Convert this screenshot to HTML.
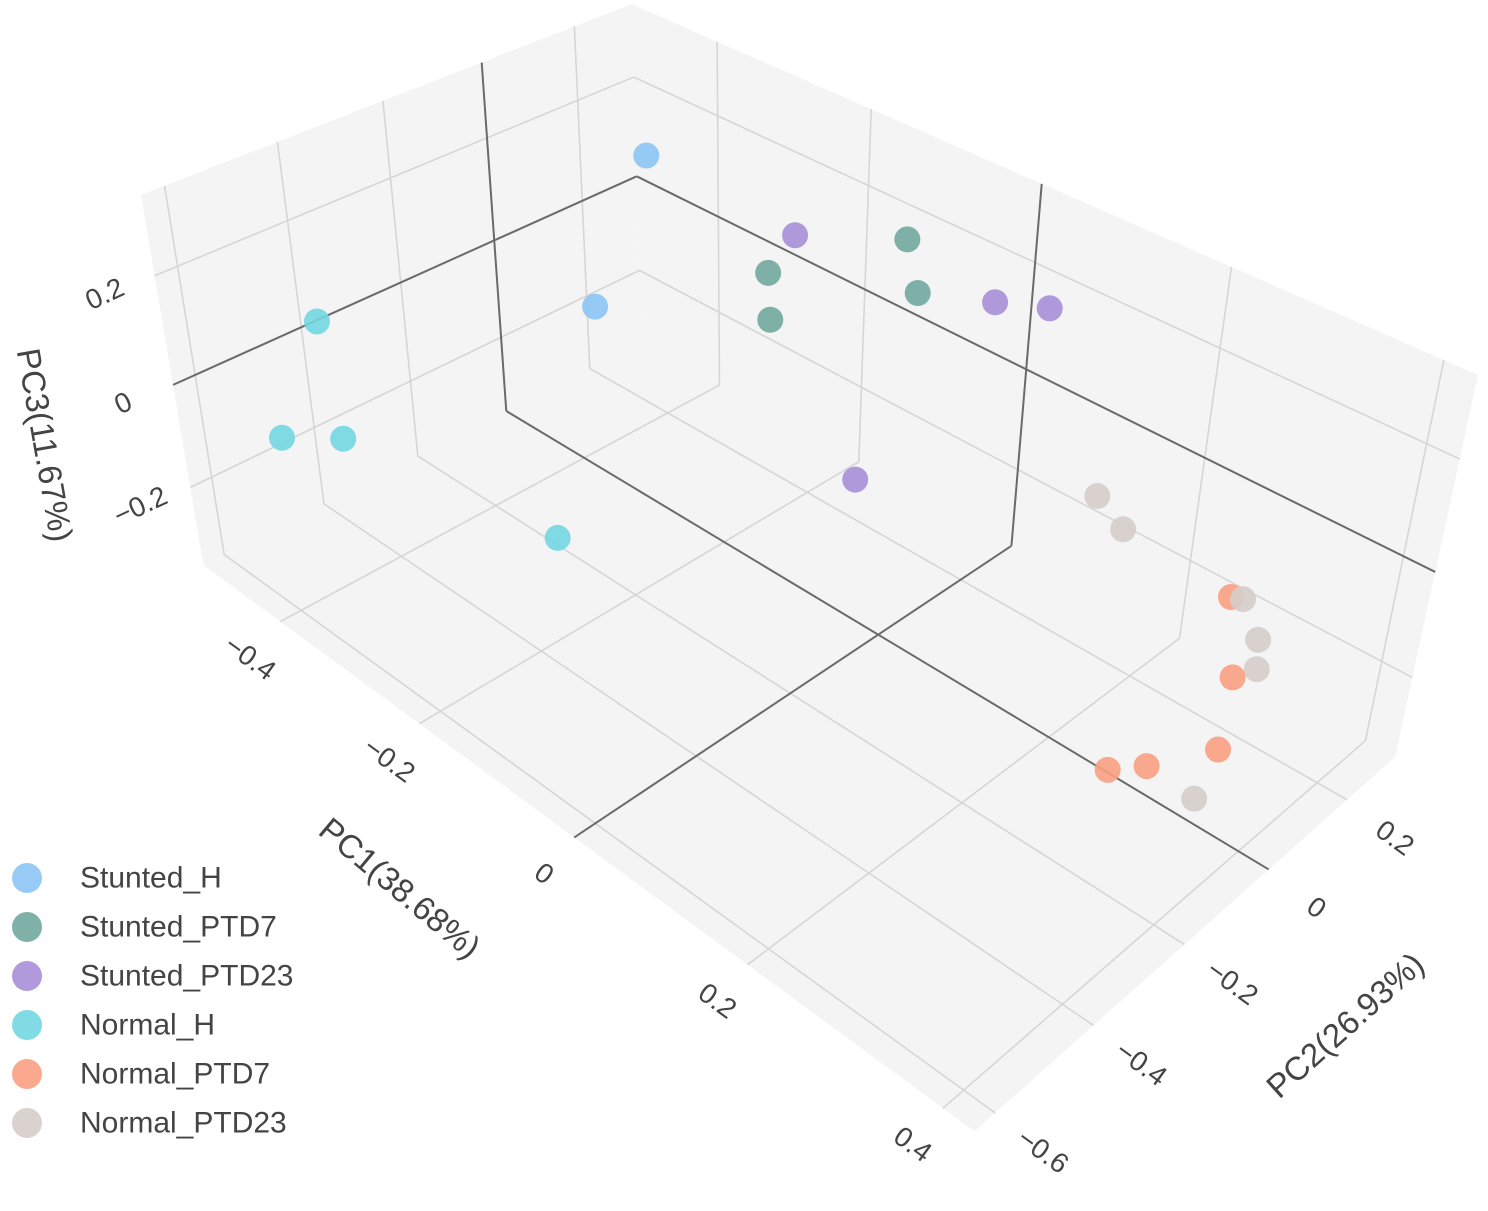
<!DOCTYPE html>
<html><head><meta charset="utf-8"><style>
html,body{margin:0;padding:0;background:#fff;}
svg{display:block;font-family:"Liberation Sans",sans-serif;}
</style></head><body>
<svg id="chart" width="1488" height="1211" viewBox="0 0 1488 1211" xmlns="http://www.w3.org/2000/svg">
<g id="walls"></g><g id="grid"></g><g id="zero"></g><g id="points"></g><g id="labels"></g><g id="legend"></g>
</svg>
<script>
// ---- data (PC1, PC2, PC3) per group ----
const groups = ["Stunted_H","Stunted_PTD7","Stunted_PTD23","Normal_H","Normal_PTD7","Normal_PTD23"];
const colors = ["#8cc4f4","#72a99f","#a78fd7","#72d7e1","#f9a083","#d6cdca"];
const pc1_StuntedH = [-0.34,-0.28];
const pc2_StuntedH = [0.07,-0.14];
const pc3_StuntedH = [0.26,0.11];
const pc1_StuntedPTD7 = [-0.12,-0.20,-0.09,-0.18];
const pc2_StuntedPTD7 = [0.27,0.10,0.24,0.07];
const pc3_StuntedPTD7 = [0.18,0.13,0.115,0.07];
const pc1_StuntedPTD23 = [-0.20,-0.01,0.05,-0.05];
const pc2_StuntedPTD23 = [0.16,0.26,0.26,0.03];
const pc3_StuntedPTD23 = [0.175,0.15,0.185,-0.11];
const pc1_NormalH = [-0.44,-0.42,-0.36,-0.21];
const pc2_NormalH = [-0.46,-0.57,-0.53,-0.34];
const pc3_NormalH = [0.1,-0.05,-0.02,-0.175];
const pc1_NormalPTD7 = [0.29,0.32,0.35,0.30,0.32];
const pc2_NormalPTD7 = [0.20,0.15,0.05,-0.095,-0.05];
const pc3_NormalPTD7 = [-0.11,-0.205,-0.25,-0.25,-0.25];
const pc1_NormalPTD23 = [0.16,0.19,0.30,0.33,0.33,0.36];
const pc2_NormalPTD23 = [0.16,0.16,0.205,0.175,0.185,-0.025];
const pc3_NormalPTD23 = [-0.02,-0.055,-0.107,-0.137,-0.2,-0.285];
const xTicks = [-0.4,-0.2,0,0.2,0.4];
const yTicks = [-0.6,-0.4,-0.2,0,0.2];
const zTicks = [-0.2,0,0.2];
const xTickLabels = ["−0.4","−0.2","0","0.2","0.4"];
const yTickLabels = ["−0.6","−0.4","−0.2","0","0.2"];
const zTickLabels = ["−0.2","0","0.2"];
const X0=-0.52,X1=0.43,Y0=-0.64,Y1=0.33,Z0=-0.36,Z1=0.34;

const series = [
 [pc1_StuntedH,pc2_StuntedH,pc3_StuntedH],
 [pc1_StuntedPTD7,pc2_StuntedPTD7,pc3_StuntedPTD7],
 [pc1_StuntedPTD23,pc2_StuntedPTD23,pc3_StuntedPTD23],
 [pc1_NormalH,pc2_NormalH,pc3_NormalH],
 [pc1_NormalPTD7,pc2_NormalPTD7,pc3_NormalPTD7],
 [pc1_NormalPTD23,pc2_NormalPTD23,pc3_NormalPTD23]
];

// ---- camera calibration (scene box corners -> screen) ----
const calib = [
 [X0,Y0,Z0,207,557],[X1,Y0,Z0,965,1140],[X1,Y1,Z0,1392,750],[X0,Y1,Z1,628,10],
 [X0,Y0,Z1,142,193],[X1,Y1,Z1,1478,365],[X0,0,Z0,500,410],[X1,0,Z0,1258,875],
 [0,Y0,Z0,585,845],[0,Y1,Z0,1025,550],[0,Y1,Z1,1055,190],[X0,0,Z1,473,68],
 [X0,Y0,0,175,378],[X0,Y1,0,634,175],[X1,Y1,0,1435,565]
];
function solveDLT(){
  const N=11, A=[], b=[];
  for(let i=0;i<N;i++){A.push(new Array(N).fill(0));b.push(0);}
  calib.forEach(([X,Y,Z,u,v])=>{
    const r1=[X,Y,Z,1,0,0,0,0,-u*X,-u*Y,-u*Z], r2=[0,0,0,0,X,Y,Z,1,-v*X,-v*Y,-v*Z];
    [[r1,u],[r2,v]].forEach(([r,t])=>{
      for(let i=0;i<N;i++){b[i]+=r[i]*t;for(let j=0;j<N;j++)A[i][j]+=r[i]*r[j];}
    });
  });
  for(let i=0;i<N;i++){
    let p=i;for(let k=i+1;k<N;k++)if(Math.abs(A[k][i])>Math.abs(A[p][i]))p=k;
    [A[i],A[p]]=[A[p],A[i]];[b[i],b[p]]=[b[p],b[i]];
    for(let k=i+1;k<N;k++){const f=A[k][i]/A[i][i];for(let j=i;j<N;j++)A[k][j]-=f*A[i][j];b[k]-=f*b[i];}
  }
  const x=new Array(N).fill(0);
  for(let i=N-1;i>=0;i--){let s=b[i];for(let j=i+1;j<N;j++)s-=A[i][j]*x[j];x[i]=s/A[i][i];}
  return x;
}
const P=solveDLT();
function proj(X,Y,Z){
  const w=P[8]*X+P[9]*Y+P[10]*Z+1;
  return [(P[0]*X+P[1]*Y+P[2]*Z+P[3])/w,(P[4]*X+P[5]*Y+P[6]*Z+P[7])/w,w];
}
const NS="http://www.w3.org/2000/svg";
function mk(tag,attrs,parent){const e=document.createElementNS(NS,tag);for(const k in attrs)e.setAttribute(k,attrs[k]);parent.appendChild(e);return e;}
const gW=document.getElementById('walls'),gG=document.getElementById('grid'),gZ=document.getElementById('zero'),gP=document.getElementById('points'),gL=document.getElementById('labels'),gLeg=document.getElementById('legend');
function poly(pts,name){
  const e=mk('polygon',{points:pts.map(p=>proj(...p).slice(0,2).join(',')).join(' '),fill:'#f4f4f4',stroke:'none'},gW);
  
  
}
poly([[X0,Y0,Z0],[X1,Y0,Z0],[X1,Y1,Z0],[X0,Y1,Z0]],'floor-plane');
poly([[X0,Y0,Z0],[X0,Y1,Z0],[X0,Y1,Z1],[X0,Y0,Z1]],'left-wall-plane');
poly([[X0,Y1,Z0],[X1,Y1,Z0],[X1,Y1,Z1],[X0,Y1,Z1]],'right-wall-plane');
function line(a,b,zero,name){
  const p=proj(...a),q=proj(...b);
  const e=mk('line',{x1:p[0],y1:p[1],x2:q[0],y2:q[1],stroke:zero?'#6a6a6a':'#d6d6d6','stroke-width':zero?2:1.6},zero?gZ:gG);
  
  
}
xTicks.forEach(x=>{const z=x===0;line([x,Y0,Z0],[x,Y1,Z0],z,'floor-gridline-pc1');line([x,Y1,Z0],[x,Y1,Z1],z,'wall-gridline-pc1');});
yTicks.forEach(y=>{const z=y===0;line([X0,y,Z0],[X1,y,Z0],z,'floor-gridline-pc2');line([X0,y,Z0],[X0,y,Z1],z,'wall-gridline-pc2');});
zTicks.forEach(zv=>{const z=zv===0;line([X0,Y0,zv],[X0,Y1,zv],z,'wall-gridline-pc3');line([X0,Y1,zv],[X1,Y1,zv],z,'wall-gridline-pc3');});
// points, far-to-near
const all=[];
series.forEach((s,g)=>{s[0].forEach((v,i)=>{const p=proj(s[0][i],s[1][i],s[2][i]);all.push({g,p});});});
all.sort((a,b)=>b.p[2]-a.p[2]);
all.forEach(o=>{
  const c=mk('circle',{cx:o.p[0],cy:o.p[1],r:13,fill:colors[o.g],'fill-opacity':0.9},gP);
  
  
});
function text(x,y,str,size,rot,name){
  const t=mk('text',{x:x,y:y,'font-size':size,fill:'#444','text-anchor':'middle','dominant-baseline':'central',transform:`rotate(${rot} ${x} ${y})`},gL);
  t.textContent=str;
  
  
}
xTicks.forEach((x,i)=>{const p=proj(x,Y0,Z0);text(p[0]-30,p[1]+36,xTickLabels[i],28,36,'pc1-tick-label');});
yTicks.forEach((y,i)=>{const p=proj(X1,y,Z0);text(p[0]+48,p[1]+38,yTickLabels[i],28,36,'pc2-tick-label');});
zTicks.forEach((z,i)=>{const p=proj(X0,Y0,z);text(p[0]-50,p[1]+18,zTickLabels[i],28,-25,'pc3-tick-label');});
text(400,888,"PC1(38.68%)",33,40,'pc1-axis-title');
text(1345,1025,"PC2(26.93%)",33,-42,'pc2-axis-title');
text(45,445,"PC3(11.67%)",33,80,'pc3-axis-title');
groups.forEach((g,i)=>{
  const y=878+49*i;
  const it=mk('g',{},gLeg);
  
  
  mk('circle',{cx:27,cy:y,r:15,fill:colors[i],'fill-opacity':0.9},it);
  const t=mk('text',{x:80,y:y,'font-size':30,fill:'#444','dominant-baseline':'central'},it);
  t.textContent=g;
});
</script>
</body></html>
